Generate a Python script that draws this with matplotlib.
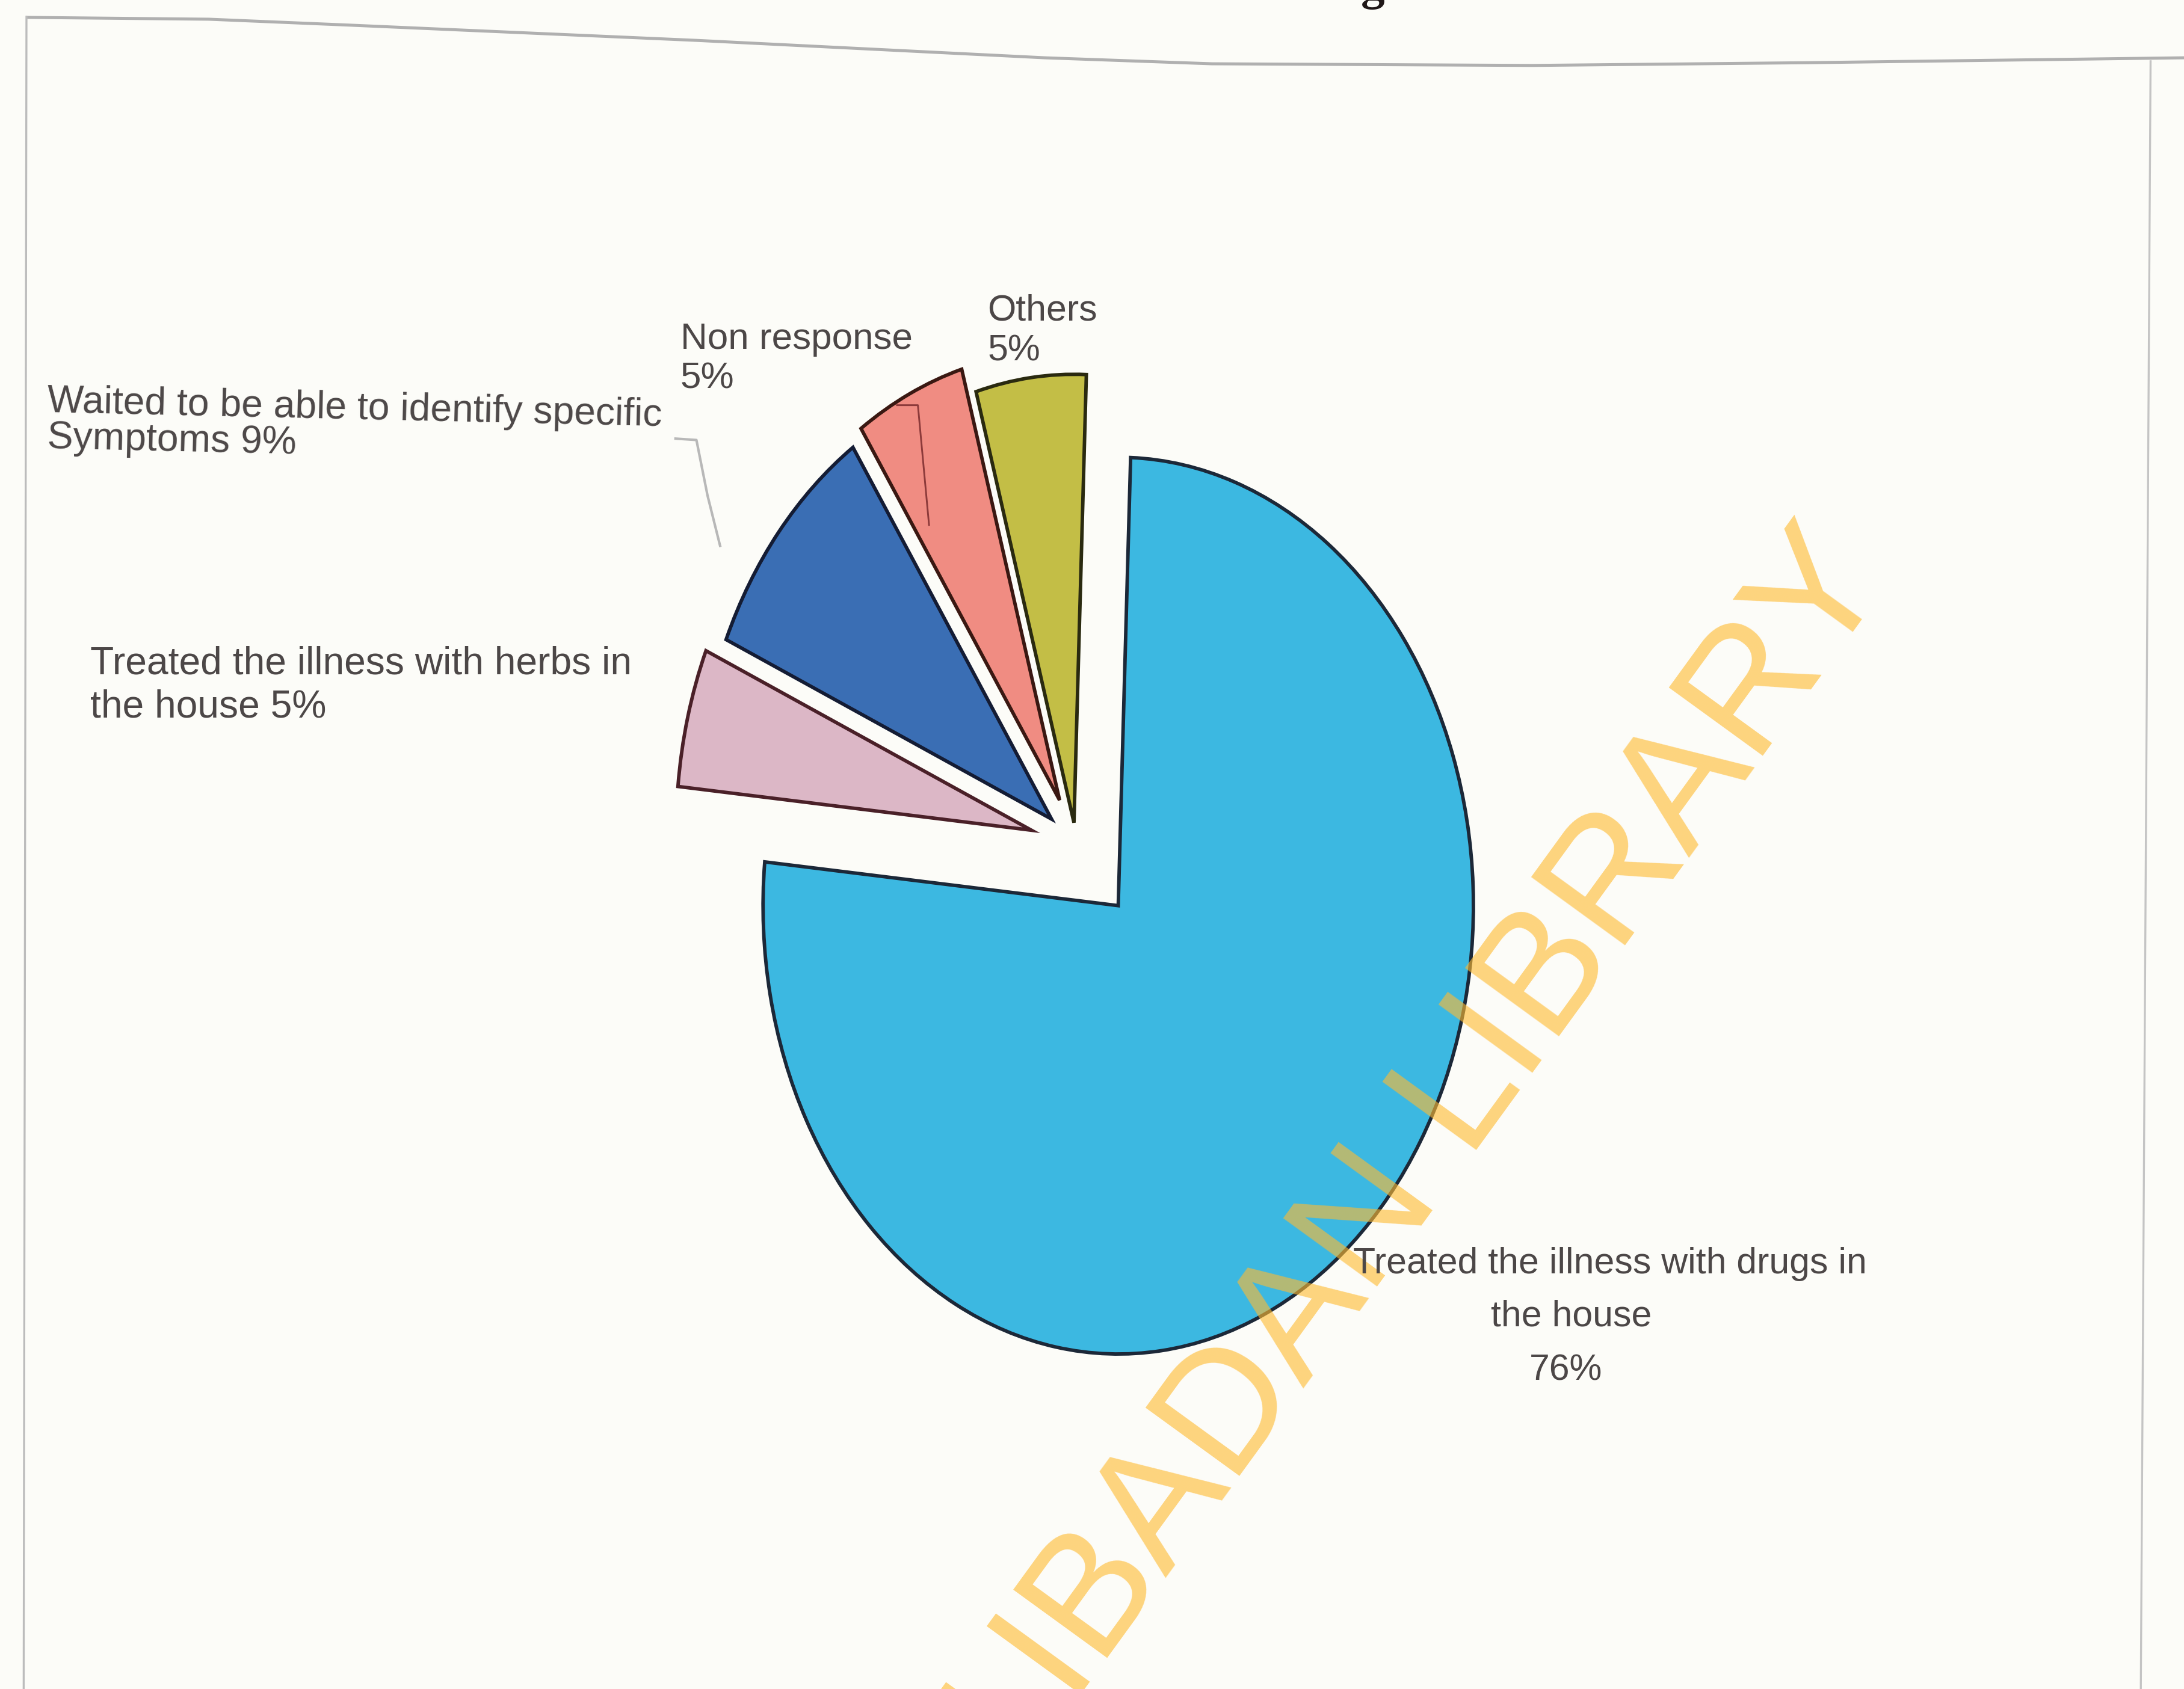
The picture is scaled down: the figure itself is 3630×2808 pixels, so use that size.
import matplotlib
matplotlib.use('Agg')
import matplotlib.pyplot as plt
from matplotlib.lines import Line2D

# data
categories = ['Treated the illness with drugs in the house',
              'Treated the illness with herbs in the house',
              'Waited to be able to identify specific Symptoms',
              'Non response',
              'Others']
shares = [76, 5, 9, 5, 5]
colors = ['#3cb8e1', '#dcb7c6', '#3a6eb4', '#f08c82', '#c3be46']
edges = ['#1c2838', '#4a2028', '#141c34', '#3a1812', '#2a2a10']
explode = [0.18, 0.13, 0.09, 0.11, 0.05]

label_lines = [
    ['Treated the illness with drugs in', 'the house', f'{shares[0]}%'],
    ['Treated the illness with herbs in', f'the house {shares[1]}%'],
    ['Waited to be able to identify specific', f'Symptoms {shares[2]}%'],
    ['Non response', f'{shares[3]}%'],
    ['Others', f'{shares[4]}%'],
]

# layout, in a 1568 x 1213 frame of the page
W, H = 1568, 1213


def fx(x):
    return x / W


def fy(y):
    return 1 - y / H


cx, cy, rx, ry = 772.6, 606.8, 255, 322

fig = plt.figure(figsize=(12.1, 9.36), dpi=300, facecolor='#fcfcf8')
ax = fig.add_axes([0, 0, 1, 1])
ax.set_facecolor('none')
wedges, _ = ax.pie(shares, colors=colors, explode=explode, startangle=88,
                   counterclock=False, wedgeprops=dict(linewidth=1.4))
for w, ec in zip(wedges, edges):
    w.set_edgecolor(ec)
ax.set_aspect('auto')
ax.set_xlim(-cx / rx, (W - cx) / rx)
ax.set_ylim(-(H - cy) / ry, cy / ry)
ax.axis('off')

# labels: (x of each line, baseline of each line, ha, size, rotation)
label_pos = [
    ([1156, 1128, 1124], [914.5, 952.5, 991], 'center', 14.6, 0),
    ([65, 65], [484, 515], 'left', 15.4, 0),
    ([34, 34], [296, 322], 'left', 15.4, -1.3),
    ([488.5, 488.5], [250.5, 279], 'left', 14.9, 0),
    ([709, 709], [230, 259], 'left', 14.6, 0),
]
for lines, (xs, ys, ha, size, rot) in zip(label_lines, label_pos):
    for line, x, y in zip(lines, xs, ys):
        fig.text(fx(x), fy(y), line, ha=ha, va='baseline', fontsize=size,
                 family='Liberation Sans', color='#4c4747', rotation=rot,
                 rotation_mode='anchor', zorder=5)

# leader lines
fig.add_artist(Line2D([fx(485), fx(500), fx(508), fx(517)],
                      [fy(315), fy(316), fy(356), fy(392)],
                      color='#b8b8b8', lw=1.0, transform=fig.transFigure))
fig.add_artist(Line2D([fx(644), fx(659), fx(667)],
                      [fy(291), fy(291), fy(377)],
                      color='#8c3a3a', lw=0.7, transform=fig.transFigure, zorder=3))

# page border of the scan
top_x = [20, 150, 250, 500, 750, 870, 1100, 1300, 1568]
top_y = [12.5, 13.8, 18, 29, 41.5, 45.8, 47, 45, 41.5]
fig.add_artist(Line2D([fx(v) for v in top_x], [fy(v) for v in top_y],
                      color='#b0b0b0', lw=1.2, transform=fig.transFigure))
fig.add_artist(Line2D([fx(19), fx(17)], [fy(12), fy(1213)],
                      color='#bcbcbc', lw=0.8, transform=fig.transFigure))
fig.add_artist(Line2D([fx(1544), fx(1537)], [fy(44), fy(1213)],
                      color='#c4c4c4', lw=0.8, transform=fig.transFigure))

# tail of the cut-off title
fig.text(fx(985.7), fy(-0.4), 'g', ha='center', va='baseline', fontsize=19,
         family='Liberation Serif', weight='bold', color='#201818')

# library watermark
fig.text(fx(1357.7), fy(416.4), 'UNIVERSITY OF IBADAN LIBRARY', ha='right',
         va='baseline', rotation=54, rotation_mode='anchor', fontsize=67.3,
         family='Liberation Sans', color='#ffbb32', alpha=0.62, zorder=4)

fig.savefig('out.png', dpi=300, facecolor=fig.get_facecolor())
